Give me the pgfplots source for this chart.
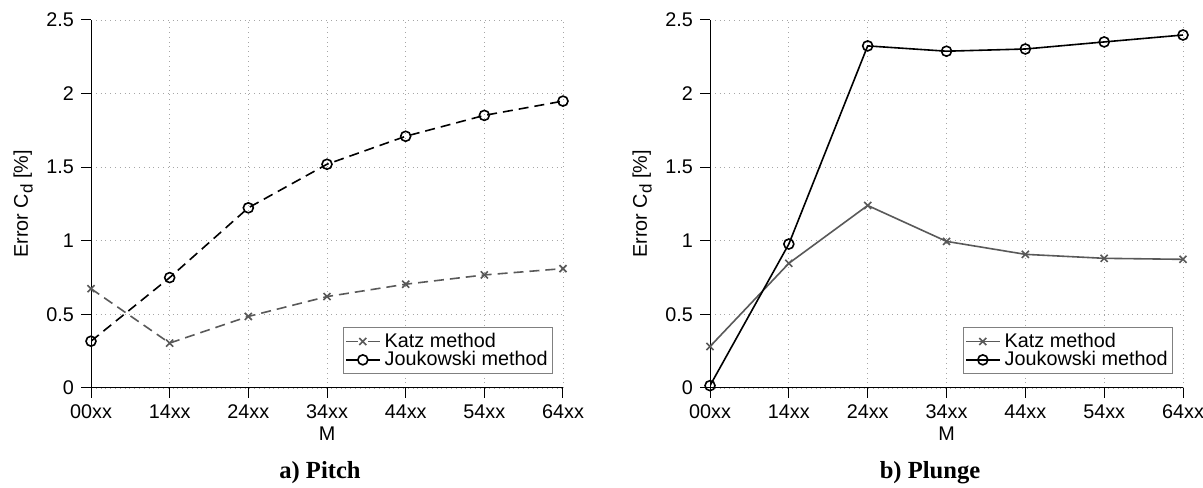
\documentclass[border=0pt]{standalone}
\usepackage{pgfplots}
\pgfplotsset{compat=1.18}
\usepackage{fontspec}
\setmainfont{Liberation Sans}
\newfontfamily\capfont{Liberation Serif}
\definecolor{katz}{gray}{0.35}

\pgfplotsset{
  errstyle/.style={
    scale only axis, width=236pt, height=184pt,
    xmin=0, xmax=6, ymin=0, ymax=2.5,
    xtick={0,...,6}, xticklabels={00xx,14xx,24xx,34xx,44xx,54xx,64xx},
    ytick={0,0.5,...,2.5},
    axis x line=bottom, axis y line=left,
    axis line style={-, black, line width=0.5pt},
    tick align=outside, major tick length=5pt,
    tick style={black, line width=0.5pt},
    grid=major, grid style={dotted, gray!70, line width=0.4pt},
    font=\fontsize{9.9}{11.5}\selectfont,
    /pgf/number format/assume math mode=true,
    yticklabel style={/pgf/number format/fixed},
    xlabel={M}, xlabel style={yshift=3pt},
    ylabel={Error C\raisebox{-0.45ex}{\fontsize{8.5}{9}\selectfont d} [\%]},
    legend cell align=left,
    legend style={at={(0.979,0.038)}, anchor=south east, draw=gray,
      line width=0.5pt, inner sep=0.5pt, row sep=-3.5pt,
      font=\fontsize{9.9}{11.5}\selectfont,
      nodes={inner ysep=2pt}},
  }
}

\begin{document}
\begin{tikzpicture}
\useasboundingbox (0,0) rectangle (601.5pt,243.5pt);

% a) pitch
\begin{axis}[errstyle, at={(45.5pt,49.5pt)}, anchor=south west,
  legend image post style={dash pattern=on 6pt off 5pt}]
  \addplot[katz, line width=0.8pt, dash pattern=on 5pt off 3pt,
    mark=x, mark size=2.5pt, mark options={solid}]
    coordinates {(0,0.675)(1,0.305)(2,0.486)(3,0.621)(4,0.705)(5,0.768)(6,0.811)};
  \addlegendentry{Katz method}
  \addplot[black, line width=0.8pt, dash pattern=on 5pt off 3pt,
    mark=o, mark size=2.5pt, mark options={solid}]
    coordinates {(0,0.318)(1,0.75)(2,1.224)(3,1.52)(4,1.71)(5,1.852)(6,1.949)};
  \addlegendentry{Joukowski method}
\end{axis}

% b) plunge
\begin{axis}[errstyle, at={(355pt,49.5pt)}, anchor=south west, width=236.5pt]
  \addplot[katz, line width=0.8pt, mark=x, mark size=2.5pt]
    coordinates {(0,0.282)(1,0.847)(2,1.24)(3,0.996)(4,0.908)(5,0.881)(6,0.874)};
  \addlegendentry{Katz method}
  \addplot[black, line width=0.8pt, mark=o, mark size=2.5pt]
    coordinates {(0,0.016)(1,0.978)(2,2.324)(3,2.288)(4,2.303)(5,2.351)(6,2.398)};
  \addlegendentry{Joukowski method}
\end{axis}

\node[anchor=base, font=\capfont\fontsize{12.3}{14}\selectfont\bfseries] at (160pt,4.5pt) {a)~Pitch};
\node[anchor=base, font=\capfont\fontsize{12.3}{14}\selectfont\bfseries] at (465pt,4.5pt) {b)~Plunge};
\end{tikzpicture}
\end{document}
